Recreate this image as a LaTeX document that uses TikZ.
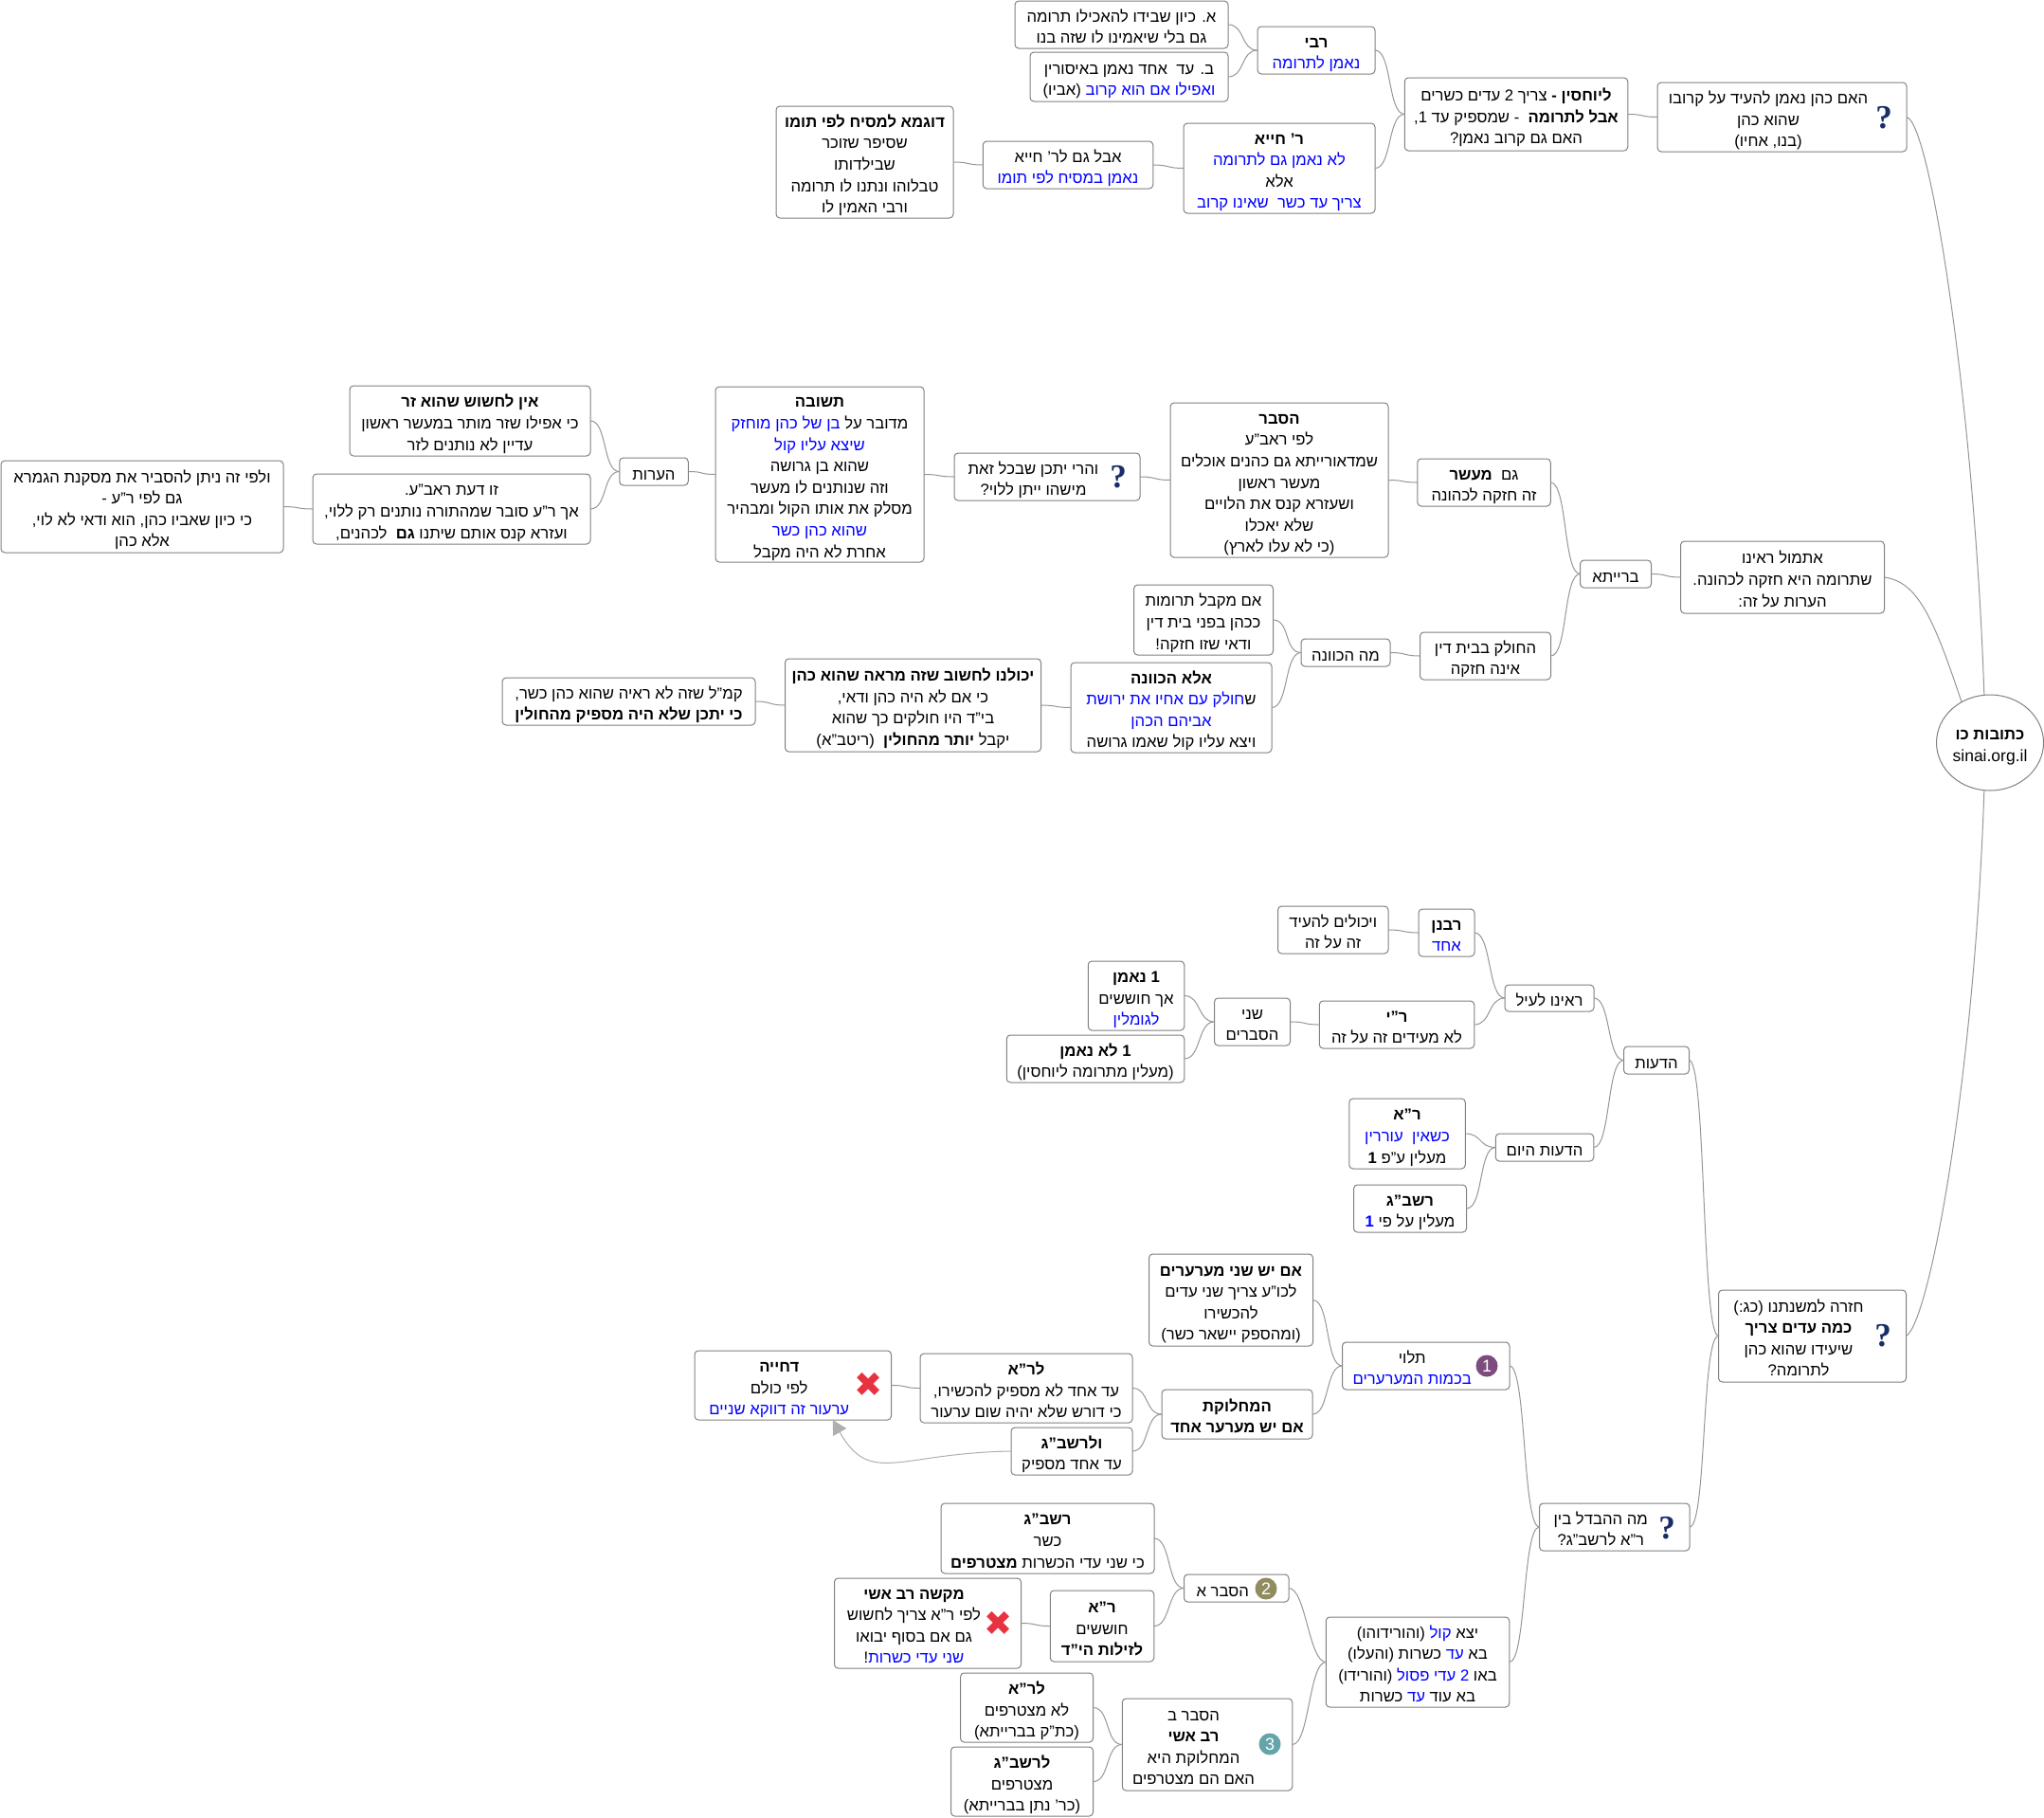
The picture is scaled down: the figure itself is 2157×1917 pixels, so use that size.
\documentclass[tikz,border=0pt]{standalone}
\usepackage{fontspec}
\setmainfont[Script=Hebrew]{Liberation Sans}
\newfontfamily\dejavu{DejaVu Sans}
\newfontfamily\qserif{Liberation Serif}
\TeXXeTstate=1
\usetikzlibrary{shapes.geometric,arrows.meta}
\definecolor{boxgray}{RGB}{128,128,128}
\definecolor{linkgray}{RGB}{150,150,150}
\definecolor{tipgray}{RGB}{175,175,175}
\definecolor{linkblue}{RGB}{0,0,255}
\definecolor{qblue}{RGB}{25,45,105}
\definecolor{xred}{RGB}{232,50,64}
\definecolor{ballone}{RGB}{125,75,125}
\definecolor{balltwo}{RGB}{145,140,95}
\definecolor{ballthree}{RGB}{100,165,170}
\newcommand{\lift}[1]{\raisebox{-4.5pt}[12pt][4pt]{#1}}
\newcommand{\rl}[1]{\lift{\beginR #1\endR}}
\newcommand{\blu}[1]{\lift{\color{linkblue}\beginR #1\endR}}
\newcommand{\iconpad}{\hbox{\kern29pt}}
\newcommand{\rli}[1]{\rl{#1}\iconpad}

\begin{document}
\begin{tikzpicture}[
        x=1pt, y=-1pt,
        box/.style={draw=boxgray, line width=1pt, rectangle, rounded corners=4pt, align=center, outer sep=0pt, inner sep=0pt, fill=white, font=\fontsize{16.7}{22.6}\selectfont},
        wh/.style 2 args={minimum width=#1, minimum height=#2},
        root/.style={draw=boxgray, line width=1pt, ellipse, align=center, outer sep=0pt, inner sep=0pt, fill=white, font=\fontsize{16.7}{22.6}\selectfont},
        link/.style={draw=linkgray, line width=1pt, to path={.. controls +(18,0) and +(-18,0) .. (\tikztotarget)}},
        rootlink/.style={draw=linkgray, line width=1pt},
        jump/.style={draw=tipgray, line width=1pt, -{Triangle[width=16pt,length=15pt]}},
        qmark/.style={inner sep=0pt, text=qblue, font=\qserif\fontsize{35}{35}\selectfont\bfseries},
        xmark/.style={inner sep=0pt, text=xred, font=\dejavu\fontsize{36}{36}\selectfont},
        numball/.style={circle, inner sep=0pt, minimum size=23pt, text=white, font=\fontsize{18}{18}\selectfont}
    ]
        \useasboundingbox (0,0) rectangle (2157,1917);

        % Nodes
        \node[root, wh={113}{101}] (sinai) at (2100,783.5) {\rl{\textbf{כתובות כו}}\\ \lift{\fontsize{17.5}{23}\selectfont sinai.org.il}};

        \node[box, wh={263}{73}] (karov) at (1880.5,123.5) {\rli{האם כהן נאמן להעיד על קרובו}\\ \rli{שהוא כהן}\\ \rli{(בנו, אחיו)}};
        \node[box, wh={235.5}{77}] (yuchsin) at (1600,120.5) {\rl{\textbf{ליוחסין -} צריך 2 עדים כשרים}\\ \rl{\textbf{אבל לתרומה} \ - שמספיק עד 1,}\\ \rl{האם גם קרוב נאמן?}};
        \node[box, wh={124}{50}] (rabi) at (1389,53) {\rl{\textbf{רבי}}\\ \blu{נאמן לתרומה}};
        \node[box, wh={225}{50}] (kiyun) at (1183.5,26) {\rl{א. כיון שבידו להאכילו תרומה}\\ \rl{גם בלי שיאמינו לו שזה בנו}};
        \node[box, wh={209}{52}] (edechad) at (1191.5,81) {\rl{ב. עד \ אחד נאמן באיסורין}\\ \rl{(אביו)} \blu{ואפילו אם הוא קרוב}};
        \node[box, wh={202}{95}] (chiya) at (1350,177.5) {\rl{\textbf{ר' חייא}}\\ \blu{לא נאמן גם לתרומה}\\ \rl{אלא}\\ \blu{צריך עד כשר \ שאינו קרוב}};
        \node[box, wh={179.5}{50}] (sach) at (1127,174) {\rl{אבל גם לר' חייא}\\ \blu{נאמן במסיח לפי תומו}};
        \node[box, wh={187}{118}] (dugma) at (912.5,171) {\rl{\textbf{דוגמא למסיח לפי תומו}}\\ \rl{שסיפר שזוכר}\\ \rl{שבילדותו}\\ \rl{טבלוהו ונתנו לו תרומה}\\ \rl{ורבי האמין לו}};

        \node[box, wh={215}{76}] (etmol) at (1881,609) {\rl{אתמול ראינו}\\ \rl{שתרומה היא חזקה לכהונה.}\\ \rl{הערות על זה:}};
        \node[box, wh={75}{29}] (braita) at (1705,605.5) {\rl{ברייתא}};
        \node[box, wh={140.5}{50}] (maaser) at (1566,509) {\rl{גם \ \textbf{מעשר}}\\ \rl{זה חזקה לכהונה}};
        \node[box, wh={230}{163}] (hesber) at (1350,506.5) {\rl{\textbf{הסבר}}\\ \rl{לפי ראב"ע}\\ \rl{שמדאורייתא גם כהנים אוכלים}\\ \rl{מעשר ראשון}\\ \rl{ושעזרא קנס את הלויים}\\ \rl{שלא יאכלו}\\ \rl{(כי לא עלו לארץ)}};
        \node[box, wh={196}{50}] (yiten) at (1105,503) {\rli{והרי יתכן שבכל זאת}\\ \rli{מישהו ייתן ללוי?}};
        \node[box, wh={220}{185}] (teshuva) at (865,500.5) {\rl{\textbf{תשובה}}\\ \blu{בן של כהן מוחזק} \rl{מדובר על}\\ \blu{שיצא עליו קול}\\ \rl{שהוא בן גרושה}\\ \rl{וזה שנותנים לו מעשר}\\ \rl{מסלק את אותו הקול ומבהיר}\\ \blu{שהוא כהן כשר}\\ \rl{אחרת לא היה מקבל}};
        \node[box, wh={72.5}{29}] (hearot) at (690,497.5) {\rl{הערות}};
        \node[box, wh={254}{74}] (zar) at (496,444) {\rl{\textbf{אין לחשוש שהוא זר}}\\ \rl{כי אפילו שזר מותר במעשר ראשון}\\ \rl{עדיין לא נותנים לזר}};
        \node[box, wh={293}{74}] (raava) at (476.5,537) {\rl{זו דעת ראב"ע.}\\ \rl{אך ר"ע סובר שמהתורה נותנים רק ללוי,}\\ \rl{ועזרא קנס אותם שיתנו \textbf{גם} \ לכהנים,}};
        \node[box, wh={298}{97}] (maskana) at (150,534.5) {\rl{ולפי זה ניתן להסביר את מסקנת הגמרא}\\ \rl{גם לפי ר"ע -}\\ \rl{כי כיון שאביו כהן, הוא ודאי לא לוי,}\\ \rl{אלא כהן}};
        \node[box, wh={138}{50}] (cholek) at (1567.5,692) {\rl{החולק בבית דין}\\ \rl{אינה חזקה}};
        \node[box, wh={94}{29}] (mahakavana) at (1420,688.5) {\rl{מה הכוונה}};
        \node[box, wh={147}{74}] (terumot) at (1270,654) {\rl{אם מקבל תרומות}\\ \rl{ככהן בפני בית דין}\\ \rl{ודאי שזו חזקה!}};
        \node[box, wh={212}{95}] (kavana) at (1236,746.5) {\rl{\textbf{אלא הכוונה}}\\ \blu{חולק עם אחיו את ירושת}\rl{ש}\\ \blu{אביהם הכהן}\\ \rl{ויצא עליו קול שאמו גרושה}};
        \node[box, wh={270}{98}] (yachol) at (963.5,744) {\rl{\textbf{יכולנו לחשוב שזה מראה שהוא כהן}}\\ \rl{כי אם לא היה כהן ודאי,}\\ \rl{בי"ד היו חולקים כך שהוא}\\ \rl{יקבל \textbf{יותר מהחולין} \ (ריטב"א)}};
        \node[box, wh={267}{50}] (kamal) at (663.5,740) {\rl{קמ"ל שזה לא ראיה שהוא כהן כשר,}\\ \rl{\textbf{כי יתכן שלא היה מספיק מהחולין}}};

        \node[box, wh={198}{97}] (chazara) at (1912.5,1409.5) {\rli{חזרה למשנתנו (כג:)}\\ \rli{\textbf{כמה עדים צריך}}\\ \rli{שיעידו שהוא כהן}\\ \rli{לתרומה?}};
        \node[box, wh={69}{29}] (deot) at (1748,1118.5) {\rl{הדעות}};
        \node[box, wh={94}{28}] (reinu) at (1635,1053) {\rl{ראינו לעיל}};
        \node[box, wh={59}{50}] (rabanan) at (1526.5,984) {\rl{\textbf{רבנן}}\\ \blu{אחד}};
        \node[box, wh={116.5}{50}] (yecholim) at (1406.75,981) {\rl{ויכולים להעיד}\\ \rl{זה על זה}};
        \node[box, wh={163.5}{50}] (ry) at (1474,1081) {\rl{\textbf{ר"י}}\\ \rl{לא מעידים זה על זה}};
        \node[box, wh={80}{50}] (shnei) at (1321.5,1078) {\rl{שני}\\ \rl{הסברים}};
        \node[box, wh={101.5}{73}] (neeman) at (1199,1050.5) {\rl{\textbf{1 נאמן}}\\ \rl{אך חוששים}\\ \blu{לגומלין}};
        \node[box, wh={187.5}{50}] (loneeman) at (1156,1117) {\rl{\textbf{1 לא נאמן}}\\ \rl{(מעלין מתרומה ליוחסין)}};
        \node[box, wh={103.5}{29}] (hayom) at (1630,1210.5) {\rl{הדעות היום}};
        \node[box, wh={122.5}{74}] (ra) at (1485,1196) {\rl{\textbf{ר"א}}\\ \blu{כשאין \ עוררין}\\ \rl{מעלין ע"פ \textbf{1}}};
        \node[box, wh={119}{50}] (rashbag) at (1488,1275) {\rl{\textbf{רשב"ג}}\\ \blu{\textbf{1}} \rl{מעלין על פי}};

        \node[box, wh={158.5}{50}] (hevdel) at (1703.75,1611) {\rli{מה ההבדל בין}\\ \rli{ר"א לרשב"ג?}};
        \node[box, wh={176.5}{50}] (talui) at (1504.75,1441) {\rli{תלוי}\\ \blu{בכמות המערערים}\iconpad};
        \node[box, wh={173}{97}] (erim) at (1299,1371.5) {\rl{\textbf{אם יש שני מערערים}}\\ \rl{לכו"ע צריך שני עדים}\\ \rl{להכשירו}\\ \rl{(ומהספק יישאר כשר)}};
        \node[box, wh={159}{52}] (machloket) at (1305.5,1492) {\rl{\textbf{המחלוקת}}\\ \rl{\textbf{אם יש מערער אחד}}};
        \node[box, wh={224}{73}] (lera) at (1083,1464.5) {\rl{\textbf{לר"א}}\\ \rl{עד אחד לא מספיק להכשירו,}\\ \rl{כי דורש שלא יהיה שום ערעור}};
        \node[box, wh={128}{50}] (velerashbag) at (1131,1531) {\rl{\textbf{ולרשב"ג}}\\ \rl{עד אחד מספיק}};
        \node[box, wh={207.5}{73}] (dchiya) at (836.75,1461.5) {\rli{\textbf{דחייה}}\\ \rli{לפי כולם}\\ \blu{ערעור זה דווקא שניים}\iconpad};
        \node[box, wh={193.5}{95}] (yatza) at (1496,1753.5) {\rl{(והורידוהו)} \blu{קול} \rl{יצא}\\ \rl{כשרות (והעלו)} \blu{עד} \rl{בא}\\ \rl{(והורידו)} \blu{2 עדי פסול} \rl{באו}\\ \rl{כשרות} \blu{עד} \rl{בא עוד}};
        \node[box, wh={110.5}{29}] (hesbera) at (1304.75,1675.5) {\rli{הסבר א}};
        \node[box, wh={225}{74}] (kasher) at (1105.5,1623) {\rl{\textbf{רשב"ג}}\\ \rl{כשר}\\ \rl{כי שני עדי הכשרות \textbf{מצטרפים}}};
        \node[box, wh={109.5}{75}] (zilut) at (1163,1715.5) {\rl{\textbf{ר"א}}\\ \rl{חוששים}\\ \rl{\textbf{לזילות הי"ד}}};
        \node[box, wh={197}{95}] (kasha) at (979,1712.5) {\rli{\textbf{מקשה רב אשי}}\\ \rli{לפי ר"א צריך לחשוש}\\ \rli{גם אם בסוף יבואו}\\ \rl{!}\blu{שני עדי כשרות}\iconpad};
        \node[box, wh={179.5}{97}] (hesberb) at (1274,1840.5) {\rli{הסבר ב}\\ \rli{\textbf{רב אשי}}\\ \rli{המחלוקת היא}\\ \rli{האם הם מצטרפים}};
        \node[box, wh={140}{73}] (lomits) at (1083.5,1801.5) {\rl{\textbf{לר"א}}\\ \rl{לא מצטרפים}\\ \rl{(כת"ק בברייתא)}};
        \node[box, wh={150}{73}] (mits) at (1078.5,1879.5) {\rl{\textbf{לרשב"ג}}\\ \rl{מצטרפים}\\ \rl{(כר' נתן בברייתא)}};

        % Icons
        \node[qmark] (qkarov) at (1988,124) {?};
        \node[qmark] (qyiten) at (1180,503) {?};
        \node[qmark] (qchazara) at (1987,1409) {?};
        \node[qmark] (qhevdel) at (1759,1612) {?};
        \node[xmark] (xdchiya) at (916.5,1461) {✖};
        \node[xmark] (xkasha) at (1054,1713) {✖};
        \node[numball, fill=ballone] (ball1) at (1569,1441) {1};
        \node[numball, fill=balltwo] (ball2) at (1336,1676) {2};
        \node[numball, fill=ballthree] (ball3) at (1340,1840) {3};

        % Links
        \draw[link] (kiyun.east) to (rabi.west);
        \draw[link] (edechad.east) to (rabi.west);
        \draw[link] (rabi.east) to (yuchsin.west);
        \draw[link] (chiya.east) to (yuchsin.west);
        \draw[link] (sach.east) to (chiya.west);
        \draw[link] (dugma.east) to (sach.west);
        \draw[link] (yuchsin.east) to (karov.west);

        \draw[link] (zar.east) to (hearot.west);
        \draw[link] (raava.east) to (hearot.west);
        \draw[link] (maskana.east) to (raava.west);
        \draw[link] (hearot.east) to (teshuva.west);
        \draw[link] (teshuva.east) to (yiten.west);
        \draw[link] (yiten.east) to (hesber.west);
        \draw[link] (hesber.east) to (maaser.west);
        \draw[link] (maaser.east) to (braita.west);
        \draw[link] (cholek.east) to (braita.west);
        \draw[link] (braita.east) to (etmol.west);
        \draw[link] (mahakavana.east) to (cholek.west);
        \draw[link] (terumot.east) to (mahakavana.west);
        \draw[link] (kavana.east) to (mahakavana.west);
        \draw[link] (yachol.east) to (kavana.west);
        \draw[link] (kamal.east) to (yachol.west);

        \draw[link] (yecholim.east) to (rabanan.west);
        \draw[link] (rabanan.east) to (reinu.west);
        \draw[link] (ry.east) to (reinu.west);
        \draw[link] (shnei.east) to (ry.west);
        \draw[link] (neeman.east) to (shnei.west);
        \draw[link] (loneeman.east) to (shnei.west);
        \draw[link] (reinu.east) to (deot.west);
        \draw[link] (hayom.east) to (deot.west);
        \draw[link] (ra.east) to (hayom.west);
        \draw[link] (rashbag.east) to (hayom.west);
        \draw[link] (deot.east) to (chazara.west);
        \draw[link] (hevdel.east) to (chazara.west);

        \draw[link] (talui.east) to (hevdel.west);
        \draw[link] (yatza.east) to (hevdel.west);
        \draw[link] (erim.east) to (talui.west);
        \draw[link] (machloket.east) to (talui.west);
        \draw[link] (lera.east) to (machloket.west);
        \draw[link] (velerashbag.east) to (machloket.west);
        \draw[link] (dchiya.east) to (lera.west);
        \draw[link] (hesbera.east) to (yatza.west);
        \draw[link] (hesberb.east) to (yatza.west);
        \draw[link] (kasher.east) to (hesbera.west);
        \draw[link] (zilut.east) to (hesbera.west);
        \draw[link] (kasha.east) to (zilut.west);
        \draw[link] (lomits.east) to (hesberb.west);
        \draw[link] (mits.east) to (hesberb.west);

        \draw[rootlink] (karov.east) .. controls +(25,5) and +(-10,-300) .. (sinai.97);
        \draw[rootlink] (etmol.east) .. controls +(35,5) and +(-30,-90) .. (sinai.125);
        \draw[rootlink] (chazara.east) .. controls +(25,-15) and +(-10,300) .. (sinai.263);

        \draw[jump] (velerashbag.west) .. controls +(-120,2) and +(40,70) .. (dchiya.-41.5);
    \end{tikzpicture}
\end{document}
